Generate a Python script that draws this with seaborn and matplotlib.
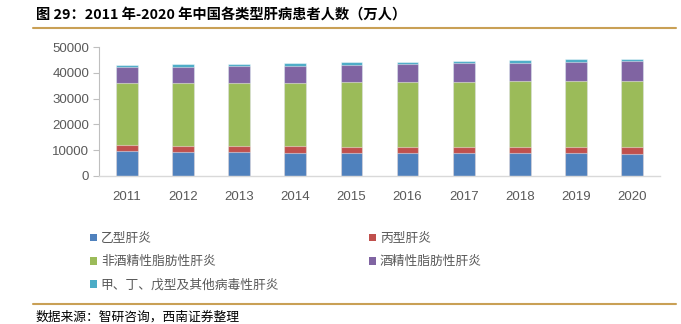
import numpy as np
import pandas as pd
import matplotlib
matplotlib.use("Agg")
import matplotlib.pyplot as plt
from matplotlib.patches import Patch
from matplotlib.lines import Line2D
import seaborn as sns

years = ["2011", "2012", "2013", "2014", "2015", "2016", "2017", "2018", "2019", "2020"]
series_names = ["乙型肝炎", "丙型肝炎", "非酒精性脂肪性肝炎", "酒精性脂肪性肝炎", "甲、丁、戊型及其他病毒性肝炎"]
hep_b = [9500, 9300, 9200, 9100, 9000, 8950, 8900, 8850, 8800, 8700]
hep_c = [2500, 2500, 2500, 2400, 2400, 2400, 2300, 2300, 2300, 2350]
nafld = [24000, 24200, 24400, 24700, 24900, 25050, 25400, 25550, 25700, 25900]
afld = [6200, 6300, 6500, 6600, 6800, 7000, 7100, 7200, 7500, 7750]
other = [1000, 1000, 900, 900, 900, 900, 900, 1000, 900, 800]
yticks = [0, 10000, 20000, 30000, 40000, 50000]

colors = ["#4F81BD", "#C0504D", "#9BBB59", "#8064A2", "#4BACC6"]

sns.set_style("white")
plt.rcParams["font.family"] = ["Noto Sans CJK SC", "DejaVu Sans"]

W, H = 681, 324
fig = plt.figure(figsize=(W / 100, H / 100), dpi=100)
ax = fig.add_axes([99 / W, 1 - 176 / H, 561 / W, 129 / H])

series = [hep_b, hep_c, nafld, afld, other]
tops = np.cumsum(np.array(series, dtype=float), axis=0)
# draw from the top layer down so lower segments overlay upper ones
for i in range(len(series) - 1, -1, -1):
    df = pd.DataFrame({"year": years, "val": tops[i]})
    sns.barplot(data=df, x="year", y="val", color=colors[i], saturation=1,
                width=0.39, edgecolor=(1, 1, 1, 0.45), linewidth=0.8, ax=ax)

ax.set_xlim(-0.5, 9.5)
ax.set_ylim(0, 50000)
ax.set_yticks(yticks)
ax.set_yticklabels([str(v) for v in yticks])
ax.set_xlabel("")
ax.set_ylabel("")
for s in ["top", "right"]:
    ax.spines[s].set_visible(False)
ax.spines["left"].set_color("#BFBFBF")
ax.spines["bottom"].set_color("#D9D9D9")
ax.spines["left"].set_linewidth(0.8)
ax.spines["bottom"].set_linewidth(1.0)
ax.tick_params(axis="y", which="both", left=True, length=4, width=0.8, color="#BFBFBF",
               labelsize=9.5, labelcolor="#595959", pad=3)
ax.tick_params(axis="x", bottom=False, labelsize=9.5, labelcolor="#595959", pad=7.5)
for lab in ax.get_yticklabels() + ax.get_xticklabels():
    lab.set_family(["Liberation Sans", "DejaVu Sans"])

# Title and decorative lines
fig.text(36 / W, 1 - 15 / H, "图 29：2011 年-2020 年中国各类型肝病患者人数（万人）",
         fontsize=10.3, fontweight="bold", color="black", va="center", ha="left")
fig.add_artist(Line2D([33 / W, 676 / W], [1 - 28 / H, 1 - 28 / H], color="#C9A055", lw=1.5))
fig.add_artist(Line2D([33 / W, 676 / W], [1 - 304 / H, 1 - 304 / H], color="#C9A055", lw=1.5))
fig.text(36 / W, 1 - 317 / H, "数据来源：智研咨询，西南证券整理", fontsize=9.2,
         style="italic", color="black", va="center", ha="left")

# Legends
handles = [Patch(facecolor=c, edgecolor="none") for c in colors]
leg_kw = dict(frameon=False, fontsize=9.2, labelcolor="#595959", handlelength=0.55,
              handleheight=0.55, handletextpad=0.3, labelspacing=0.8, borderpad=0,
              borderaxespad=0, loc="upper left")
leg1 = fig.legend([handles[0], handles[2], handles[4]],
                  [series_names[0], series_names[2], series_names[4]],
                  bbox_to_anchor=(90 / W, 1 - 232 / H), **leg_kw)
leg2 = fig.legend([handles[1], handles[3]], [series_names[1], series_names[3]],
                  bbox_to_anchor=(369 / W, 1 - 232 / H), **leg_kw)

fig.savefig("out.png", dpi=100)
